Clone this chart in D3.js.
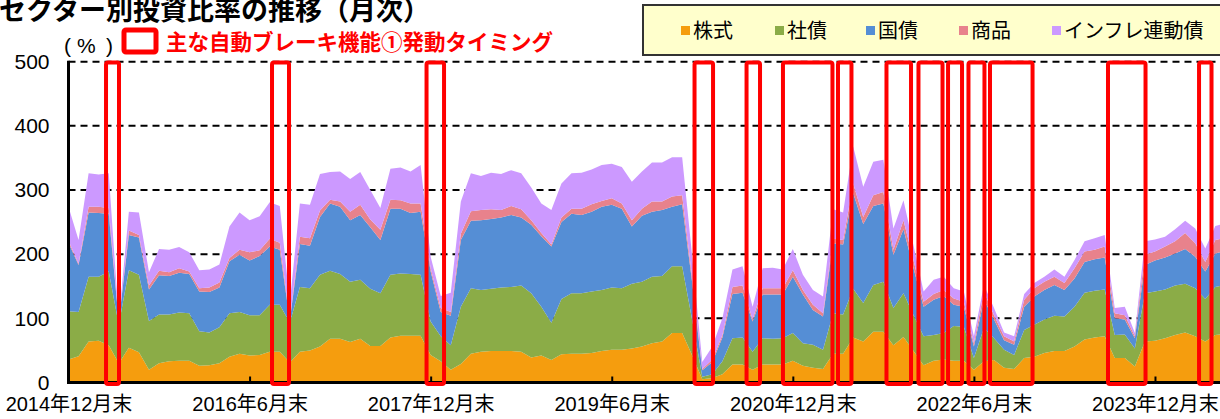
<!DOCTYPE html>
<html>
<head>
<meta charset="utf-8">
<script src="https://cdn.jsdelivr.net/npm/d3@7"></script>
<style>
  body { margin: 0; background: #fff; }
  svg { display: block; }
</style>
</head>
<body>
<script>
// sector weights (%) per month, index 0 = 2014年12月末
var stocks = [36,41,64,65,58,30,54,47,20,30,33,34,34,26,27,30,40,45,42,43,48,48,31,48,50,56,68,68,63,68,
  57,57,70,73,73,73,43,33,20,29,45,48,49,49,49,48,39,42,35,44,45,45,46,49,51,51,53,56,61,64,
  77,77,42,5,7,13,28,28,20,28,28,28,34,26,23,21,45,45,70,64,79,79,58,71,49,27,34,36,34,34,
  20,33,35,23,21,38,40,46,49,49,56,67,70,72,38,38,25,64,65,69,74,78,72,64,74,76];
var corpBonds = [75,69,101,100,115,60,121,121,76,76,73,75,74,54,51,56,68,65,63,62,73,73,62,101,97,112,106,101,94,92,
  89,82,98,97,96,95,52,39,38,89,102,96,97,99,100,103,100,76,58,86,94,94,96,95,97,96,101,101,104,102,
  104,104,55,4,6,20,41,42,28,41,40,41,43,35,36,30,63,61,76,60,73,78,58,68,56,45,40,41,54,53,
  18,52,34,28,22,44,50,52,55,54,62,73,73,73,36,37,28,75,77,76,77,76,75,66,75,76];
var govBonds = [107,73,100,99,90,5,55,58,49,61,60,62,61,62,63,62,81,89,85,92,91,86,4,67,66,90,105,105,96,101,
  96,83,103,101,95,98,78,38,46,104,105,109,109,109,112,106,107,110,119,120,124,122,124,130,129,124,89,103,101,103,
  93,97,58,10,19,37,69,70,47,68,69,68,88,76,54,52,109,109,149,123,123,122,83,100,73,46,55,58,33,31,
  18,44,29,15,16,36,44,46,48,41,44,48,49,50,26,23,16,44,48,50,50,54,49,43,52,53];
var commodities = [3,2,9,10,9,1,7,4,6,7,6,7,4,5,7,8,5,8,13,9,12,11,2,11,12,10,6,8,13,16,
  12,16,14,13,15,13,5,6,6,10,15,16,15,12,14,13,7,5,3,7,8,10,12,9,10,8,10,11,16,13,
  16,14,7,2,4,4,11,11,3,10,10,10,10,7,8,5,7,7,15,11,17,18,8,14,12,8,9,9,10,8,
  5,13,7,6,5,11,13,13,13,11,16,16,15,17,8,7,3,16,14,17,19,25,21,15,21,21];
var inflationBonds = [53,37,52,50,54,2,29,35,21,34,35,33,30,28,28,28,49,58,50,53,57,57,26,52,52,57,43,47,51,51,
  46,34,48,51,50,60,18,19,30,50,59,53,57,56,56,56,51,46,54,53,55,56,54,56,54,57,60,58,61,61,
  61,59,34,11,20,26,27,30,20,31,32,29,33,24,23,26,46,43,58,47,52,50,33,31,23,16,22,21,16,16,
  11,10,11,6,8,9,8,8,11,10,13,16,18,18,8,13,5,21,19,15,19,19,23,21,22,22];

var seriesKeys = ["stocks", "corp", "gov", "comm", "infl"];
var seriesNames = ["株式", "社債", "国債", "商品", "インフレ連動債"];
var seriesColors = ["#F59D0E", "#8BAC47", "#558ED5", "#E8828C", "#CC99FF"];

// x axis ticks (month index) and labels
var tickMonths = [0, 18, 36, 54, 72, 90, 108];
var tickLabels = ["2014年12月末", "2016年6月末", "2017年12月末", "2019年6月末",
  "2020年12月末", "2022年6月末", "2023年12月末"];
var yTicks = [0, 100, 200, 300, 400, 500];

// auto brake timing windows, in month index
var brakeStart = [3.73, 20.23, 35.59, 62.23, 67.40, 71.02, 76.49, 81.31, 84.49, 87.43, 89.46, 91.60, 103.33, 112.38];
var brakeEnd = [5.02, 21.92, 37.33, 64.07, 68.74, 75.94, 77.83, 83.75, 86.88, 88.82, 91.05, 95.83, 107.06, 113.62];

var w = 1220;
var h = 419;
var font = "'Liberation Sans', 'Noto Sans CJK JP', sans-serif";
var jfont = "'Noto Sans CJK JP', sans-serif";

var svg = d3.select("body")
  .append("svg")
  .attr("width", w)
  .attr("height", h);

// build rows for stacking
var rows = [];
for (var i = 0; i < stocks.length; i++) {
  rows.push({
    i: i,
    stocks: stocks[i],
    corp: corpBonds[i],
    gov: govBonds[i],
    comm: commodities[i],
    infl: inflationBonds[i]
  });
}
var stacked = d3.stack().keys(seriesKeys)(rows);

// scales
var xScale = d3.scaleLinear()
  .domain([0, 114])
  .range([68.5, 68.5 + 114 * 10.06]);

var yScale = d3.scaleLinear()
  .domain([0, 500])
  .range([382.5, 61.7]);

// dashed grid lines
svg.append("g")
  .selectAll("line")
  .data(yTicks.slice(1))
  .enter()
  .append("line")
  .attr("x1", xScale(0))
  .attr("x2", w)
  .attr("y1", function(d) { return yScale(d); })
  .attr("y2", function(d) { return yScale(d); })
  .attr("stroke", "#000")
  .attr("stroke-width", 2)
  .attr("stroke-dasharray", "7,5");

// stacked areas
var area = d3.area()
  .x(function(d) { return xScale(d.data.i); })
  .y0(function(d) { return yScale(d[0]); })
  .y1(function(d) { return yScale(d[1]); });

svg.append("g")
  .selectAll("path")
  .data(stacked)
  .enter()
  .append("path")
  .attr("d", area)
  .attr("fill", function(d, k) { return seriesColors[k]; })
  .attr("stroke", "none");

// y axis
var yAxis = d3.axisLeft(yScale)
  .tickValues(yTicks)
  .tickSize(0)
  .tickPadding(19);

var yGuide = svg.append("g")
  .attr("transform", "translate(" + xScale(0) + ",0)")
  .call(yAxis);
yGuide.select(".domain").remove();
yGuide.selectAll("text")
  .attr("font-family", font)
  .attr("font-size", "21px")
  .attr("fill", "#000");

svg.append("line")
  .attr("x1", xScale(0))
  .attr("x2", xScale(0))
  .attr("y1", yScale(500) - 1)
  .attr("y2", yScale(0) + 1.5)
  .attr("stroke", "#000")
  .attr("stroke-width", 3);

// x axis
var xAxis = d3.axisBottom(xScale)
  .tickValues(tickMonths)
  .tickFormat(function(d, k) { return tickLabels[k]; })
  .tickSize(-6)
  .tickPadding(14);

var xGuide = svg.append("g")
  .attr("transform", "translate(0," + yScale(0) + ")")
  .call(xAxis);
xGuide.select(".domain").remove();
xGuide.selectAll("line")
  .attr("stroke", "#000")
  .attr("stroke-width", 2);
xGuide.selectAll("text")
  .attr("font-family", font)
  .attr("font-size", "20px")
  .attr("fill", "#000");

svg.append("line")
  .attr("x1", xScale(0) - 1.5)
  .attr("x2", w)
  .attr("y1", yScale(0))
  .attr("y2", yScale(0))
  .attr("stroke", "#000")
  .attr("stroke-width", 3);

// red boxes for brake timing
svg.append("g")
  .selectAll("rect")
  .data(brakeStart)
  .enter()
  .append("rect")
  .attr("x", function(d) { return xScale(d); })
  .attr("width", function(d, k) { return xScale(brakeEnd[k]) - xScale(d); })
  .attr("y", yScale(500) + 0.8)
  .attr("height", yScale(0) - yScale(500) + 0.7)
  .attr("rx", 2)
  .attr("fill", "none")
  .attr("stroke", "#FF0000")
  .attr("stroke-width", 4);

// title (top edge is cut off in the original too)
svg.append("text")
  .attr("x", -1)
  .attr("y", 20)
  .attr("font-family", jfont)
  .attr("font-size", "27px")
  .attr("font-weight", "bold")
  .attr("fill", "#000")
  .text("セクター別投資比率の推移（月次）");

// unit label, full-width brackets spaced out
var unit = svg.append("text")
  .attr("y", 53)
  .attr("font-family", font)
  .attr("font-size", "21px")
  .attr("fill", "#000");
unit.append("tspan").attr("x", 64).text("(");
unit.append("tspan").attr("x", 77).text("%");
unit.append("tspan").attr("x", 106).text(")");

// red box legend
svg.append("rect")
  .attr("x", 124)
  .attr("y", 30)
  .attr("width", 32)
  .attr("height", 22)
  .attr("rx", 2)
  .attr("fill", "none")
  .attr("stroke", "#FF0000")
  .attr("stroke-width", 5);

svg.append("text")
  .attr("x", 166)
  .attr("y", 50)
  .attr("font-family", jfont)
  .attr("font-size", "21.5px")
  .attr("font-weight", "bold")
  .attr("fill", "#FF0000")
  .text("主な自動ブレーキ機能①発動タイミング");

// legend box
var legend = svg.append("g");
legend.append("rect")
  .attr("x", 643)
  .attr("y", 5)
  .attr("width", 600)
  .attr("height", 50)
  .attr("fill", "#FFFFCC")
  .attr("stroke", "#333")
  .attr("stroke-width", 2);

var legendX = [681, 775, 866, 959, 1052];
legend.selectAll(".sw")
  .data(seriesNames)
  .enter()
  .append("rect")
  .attr("class", "sw")
  .attr("x", function(d, k) { return legendX[k]; })
  .attr("y", 26)
  .attr("width", 9)
  .attr("height", 9)
  .attr("fill", function(d, k) { return seriesColors[k]; });

legend.selectAll(".lt")
  .data(seriesNames)
  .enter()
  .append("text")
  .attr("class", "lt")
  .attr("x", function(d, k) { return legendX[k] + 12; })
  .attr("y", 38)
  .attr("font-family", jfont)
  .attr("font-size", "20px")
  .attr("fill", "#000")
  .text(function(d) { return d; });
</script>
</body>
</html>
